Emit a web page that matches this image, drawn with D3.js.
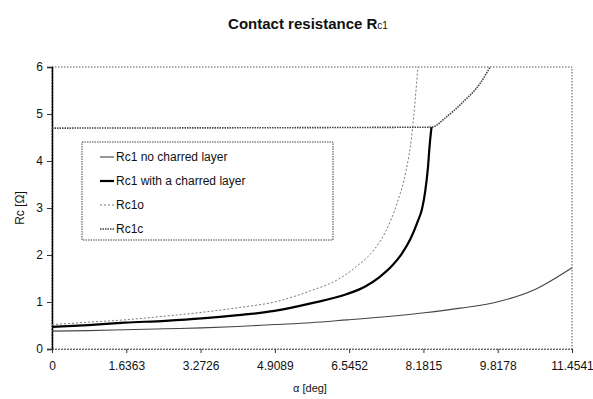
<!DOCTYPE html>
<html>
<head>
<meta charset="utf-8">
<script src="https://cdn.jsdelivr.net/npm/d3@7"></script>
<style>
  html, body { margin: 0; padding: 0; background: #fff; }
  text { font-family: "Liberation Sans", Arial, sans-serif; fill: #111; }
</style>
</head>
<body>
<svg id="chart" width="593" height="399"></svg>
<script>
// ---- data ----
const xTicks = [0, 1.6363, 3.2726, 4.9089, 6.5452, 8.1815, 9.8178, 11.4541];
const xTickLabels = ["0", "1.6363", "3.2726", "4.9089", "6.5452", "8.1815", "9.8178", "11.4541"];
const yTicks = [0, 1, 2, 3, 4, 5, 6];

const noCharX = [0, 0.8, 1.6, 2.5, 3.3, 4.1, 4.9, 5.7, 6.5, 7.4, 8.2, 9.0, 9.8, 10.6, 11.4541];
const noCharY = [0.38, 0.39, 0.41, 0.43, 0.45, 0.48, 0.52, 0.56, 0.62, 0.69, 0.77, 0.87, 1.0, 1.25, 1.73];

const charX = [0, 0.8, 1.6, 2.5, 3.3, 4.1, 4.9, 5.7, 6.5, 6.9, 7.2, 7.5, 7.7, 7.9, 8.05, 8.15, 8.22, 8.28, 8.32, 8.36];
const charY = [0.47, 0.51, 0.56, 0.60, 0.65, 0.72, 0.81, 0.97, 1.17, 1.33, 1.52, 1.78, 2.02, 2.35, 2.70, 2.98, 3.35, 3.85, 4.35, 4.72];

const rc1oX = [0, 0.8, 1.6, 2.5, 3.3, 4.1, 4.9, 5.7, 6.3, 6.7, 7.1, 7.35, 7.6, 7.8, 7.92, 8.0, 8.06];
const rc1oY = [0.52, 0.57, 0.62, 0.70, 0.78, 0.88, 1.0, 1.24, 1.48, 1.75, 2.12, 2.5, 3.1, 3.8, 4.5, 5.3, 6.0];

const rc1cX = [0, 8.36, 8.69, 9.06, 9.43, 9.65];
const rc1cY = [4.70, 4.72, 4.94, 5.26, 5.65, 6.0];

const seriesNames = ["Rc1 no charred layer", "Rc1 with a charred layer", "Rc1o", "Rc1c"];

// ---- layout ----
const svg = d3.select("#chart");
const L = 52, R = 572, T = 67, B = 349;
const x = d3.scaleLinear().domain([0, 11.4541]).range([L, R]);
const y = d3.scaleLinear().domain([0, 6]).range([B, T]);

// title
const title = svg.append("text").attr("x", 308).attr("y", 29)
  .attr("text-anchor", "middle").attr("font-size", 15).attr("font-weight", "bold");
title.append("tspan").text("Contact resistance R");
title.append("tspan").attr("font-size", 10).attr("font-weight", "normal").text("c1");

// plot border (dotted)
svg.append("rect").attr("x", L).attr("y", T).attr("width", R - L).attr("height", B - T)
  .attr("fill", "none").attr("stroke", "#555").attr("stroke-width", 1).attr("stroke-dasharray", "1.5,1.5");

// y axis
const yAxis = d3.axisLeft(y).tickValues(yTicks).tickSize(5).tickFormat(d3.format("d"));
const gy = svg.append("g").attr("transform", `translate(${L},0)`).call(yAxis);
gy.select(".domain").attr("stroke", "#000").attr("stroke-width", 1.5);
gy.selectAll(".tick line").attr("stroke", "#333");
gy.selectAll(".tick text").attr("font-size", 12).attr("font-family", "Liberation Sans, Arial, sans-serif").attr("fill", "#111").attr("dx", -1);

// x axis
const xAxis = d3.axisBottom(x).tickValues(xTicks).tickSize(4).tickFormat((d, i) => xTickLabels[i]);
const gx = svg.append("g").attr("transform", `translate(0,${B})`).call(xAxis);
gx.select(".domain").attr("stroke", "#555").attr("stroke-dasharray", "1.5,1.5");
gx.selectAll(".tick line").attr("stroke", "#333");
gx.selectAll(".tick text").attr("font-size", 12).attr("font-family", "Liberation Sans, Arial, sans-serif").attr("fill", "#111").attr("dy", 14);

// axis titles
svg.append("text").attr("transform", "translate(24,208) rotate(-90)")
  .attr("text-anchor", "middle").attr("font-size", 12).text("Rc [Ω]");
svg.append("text").attr("x", 310).attr("y", 392)
  .attr("text-anchor", "middle").attr("font-size", 11).text("α [deg]");

// lines
const line = d3.line().x(d => x(d[0])).y(d => y(d[1])).curve(d3.curveMonotoneX);
const styles = [
  { stroke: "#444", width: 1.1, dash: null },
  { stroke: "#000", width: 2.2, dash: null },
  { stroke: "#777", width: 1, dash: "2,2" },
  { stroke: "#444", width: 1.6, dash: "1.5,1" }
];
const series = [
  d3.zip(noCharX, noCharY),
  d3.zip(charX, charY),
  d3.zip(rc1oX, rc1oY),
  d3.zip(rc1cX, rc1cY)
];
series.forEach((s, i) => {
  const p = svg.append("path").datum(s).attr("d", line)
    .attr("fill", "none").attr("stroke", styles[i].stroke).attr("stroke-width", styles[i].width);
  if (styles[i].dash) p.attr("stroke-dasharray", styles[i].dash);
});

// legend
const lg = svg.append("g");
lg.append("rect").attr("x", 82).attr("y", 142).attr("width", 251).attr("height", 98)
  .attr("fill", "#fff").attr("stroke", "#444").attr("stroke-width", 1).attr("stroke-dasharray", "1.5,1");
seriesNames.forEach((name, i) => {
  const yy = 157 + i * 24;
  const l = lg.append("line").attr("x1", 100).attr("x2", 114).attr("y1", yy).attr("y2", yy)
    .attr("stroke", styles[i].stroke).attr("stroke-width", styles[i].width);
  if (styles[i].dash) l.attr("stroke-dasharray", styles[i].dash);
  lg.append("text").attr("x", 116).attr("y", yy + 4).attr("font-size", 12).text(name);
});
</script>
</body>
</html>
